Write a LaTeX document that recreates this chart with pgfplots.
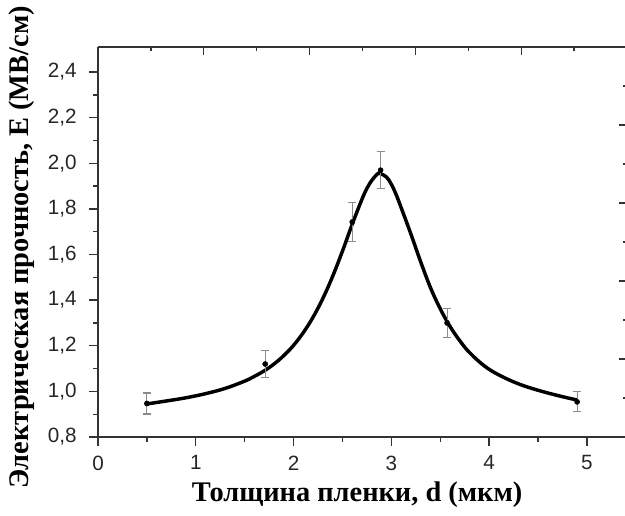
\documentclass[border=0pt]{standalone}
\usepackage{fontspec}
\setmainfont{Liberation Sans}
\newfontfamily\labfont{Liberation Serif}
\usepackage{pgfplots}
\pgfplotsset{compat=1.18}
\definecolor{axgray}{HTML}{333333}
\definecolor{errgray}{HTML}{8C8C8C}
\begin{document}
\begin{tikzpicture}
\begin{axis}[
  scale only axis, width=396.75pt, height=292.5pt,
  xmin=0, xmax=5.41, ymin=0.8, ymax=2.51,
  axis x line*=bottom, axis y line*=left,
  axis line style={axgray, line width=1.1pt},
  tick style={axgray, line width=1pt},
  tick align=outside,
  major tick length=6.5pt, minor tick length=3.5pt,
  xtick={0,1,2,3,4,5}, ytick={0.8,1.0,1.2,1.4,1.6,1.8,2.0,2.2,2.4},
  minor x tick num=1, minor y tick num=1,
  /pgf/number format/assume math mode=true,
  yticklabel style={/pgf/number format/.cd, fixed, fixed zerofill, precision=1, use comma, /tikz/.cd, xshift=-6pt},
  xticklabel style={yshift=-4pt},
  tick label style={font=\fontsize{15.5}{18}\selectfont, text=black!85},
  xlabel={Толщина пленки, d (мкм)},
  ylabel={Электрическая прочность, E (МВ/см)},
  label style={font=\labfont\bfseries\fontsize{21.3}{25}\selectfont},
  xlabel style={at={(axis description cs:0.49,-0.1487)}, anchor=center},
  ylabel style={at={(axis description cs:-0.1437,0.486)}, anchor=center},
  clip=false,
]
\addplot[black, line width=2.6pt, smooth, tension=0.6] coordinates {
  (0.5,0.945) (0.7,0.958) (0.9,0.972) (1.1,0.990) (1.3,1.013) (1.5,1.045)
  (1.6,1.066) (1.7,1.090) (1.8,1.120) (1.9,1.157) (2.0,1.202) (2.1,1.258)
  (2.2,1.326) (2.3,1.408) (2.4,1.505) (2.5,1.615) (2.6,1.733) (2.7,1.843)
  (2.75,1.890) (2.8,1.925) (2.85,1.950) (2.88,1.956) (2.95,1.940) (3.0,1.908)
  (3.05,1.862) (3.1,1.806) (3.2,1.690) (3.3,1.568) (3.4,1.455) (3.5,1.362)
  (3.6,1.285) (3.7,1.222) (3.8,1.170) (3.95,1.112) (4.1,1.072) (4.3,1.033)
  (4.5,1.005) (4.7,0.982) (4.9,0.962)
};
\addplot[only marks, mark=*, mark size=1.9pt, black,
  error bars/.cd, y dir=both, y explicit,
  error bar style={errgray, line width=0.8pt},
  error mark options={rotate=90, mark size=3pt, errgray, line width=0.8pt}]
  coordinates {
  (0.5,0.947) +- (0,0.046)
  (1.71,1.12) +- (0,0.06)
  (2.6,1.743) +- (0,0.085)
  (2.89,1.97) +- (0,0.08)
  (3.57,1.30) +- (0,0.062)
  (4.9,0.954) +- (0,0.044)
};
\coordinate (SW) at (rel axis cs:0,0);
\coordinate (NE) at (rel axis cs:1,1);
\end{axis}
\begin{axis}[
  scale only axis, width=396.75pt, height=292.5pt,
  xmin=0, xmax=5, ymin=0, ymax=5,
  axis x line*=top, axis y line*=right,
  axis line style={axgray, line width=1.1pt},
  tick style={axgray, line width=1pt},
  tick align=inside,
  major tick length=6pt, minor tick length=3pt,
  xtick={0,1,2,3,4,5}, ytick={0,1,2,3,4,5},
  minor x tick num=1, minor y tick num=1,
  xticklabels={}, yticklabels={},
]
\end{axis}
\pgfresetboundingbox
\path ([shift={(-73.5pt,-58.5pt)}]SW) rectangle ([shift={(-1.5pt,35.25pt)}]NE);
\end{tikzpicture}
\end{document}
